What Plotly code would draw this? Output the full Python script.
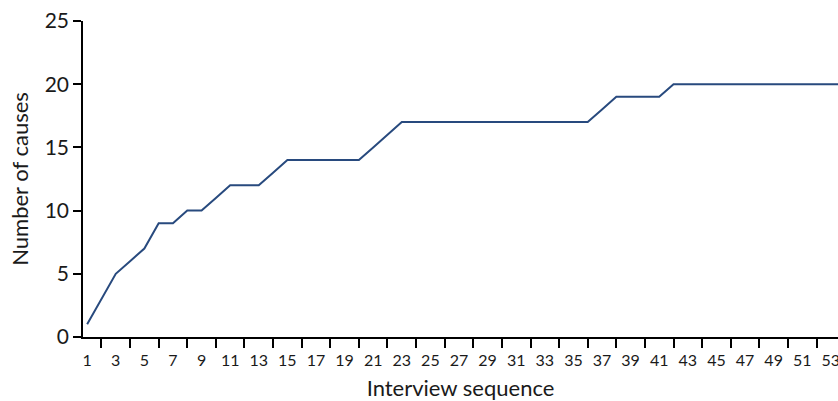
import plotly.graph_objects as go

# interview number and the running count of causes found
interviews = list(range(1, 55))
causes = [1, 3, 5, 6, 7, 9, 9, 10, 10, 11,
          12, 12, 12, 13, 14, 14, 14, 14, 14, 14,
          15, 16, 17, 17, 17, 17, 17, 17, 17, 17,
          17, 17, 17, 17, 17, 17, 18, 19, 19, 19,
          19, 20, 20, 20, 20, 20, 20, 20, 20, 20,
          20, 20, 20, 20]
label_vals = list(range(1, 55, 2))
tick_marks = list(range(2, 55, 2))
y_ticks = [0, 5, 10, 15, 20, 25]

fig = go.Figure()
fig.add_trace(go.Scatter(x=interviews, y=causes, mode="lines",
                         line=dict(color="#284a7e", width=2)))

fig.update_layout(
    width=838, height=401,
    margin=dict(l=83, r=0, t=21, b=64, autoexpand=False),
    paper_bgcolor="white", plot_bgcolor="white",
    showlegend=False,
    font=dict(family="Lato, sans-serif", color="#1a1a1a"),
)
fig.update_xaxes(
    range=[0.71, 53.5], automargin=False,
    tickmode="array", tickvals=label_vals,
    ticktext=[str(v) for v in label_vals],
    ticks="", ticklen=0, tickfont=dict(size=16), ticklabelstandoff=8,
    ticklabeloverflow="allow",
    minor=dict(tickmode="array", tickvals=tick_marks, ticks="outside",
               ticklen=9, tickwidth=1.5, tickcolor="black", showgrid=False),
    showline=True, linecolor="black", linewidth=1.5,
    showgrid=False, zeroline=False,
    title=dict(text="Interview sequence", font=dict(size=22), standoff=13),
)
fig.update_yaxes(
    range=[0, 25], tickvals=y_ticks, automargin=False,
    ticks="outside", ticklen=8, tickwidth=1.5, tickcolor="black",
    tickfont=dict(size=21),
    showline=True, linecolor="black", linewidth=1.5,
    showgrid=False, zeroline=False,
    title=dict(text="Number of causes", font=dict(size=22), standoff=10),
)

# drop the page's default 8px body margin so the figure fills the window
fig.write_html("out.html", config={"displayModeBar": False},
               post_script="document.body.style.margin='0';")
